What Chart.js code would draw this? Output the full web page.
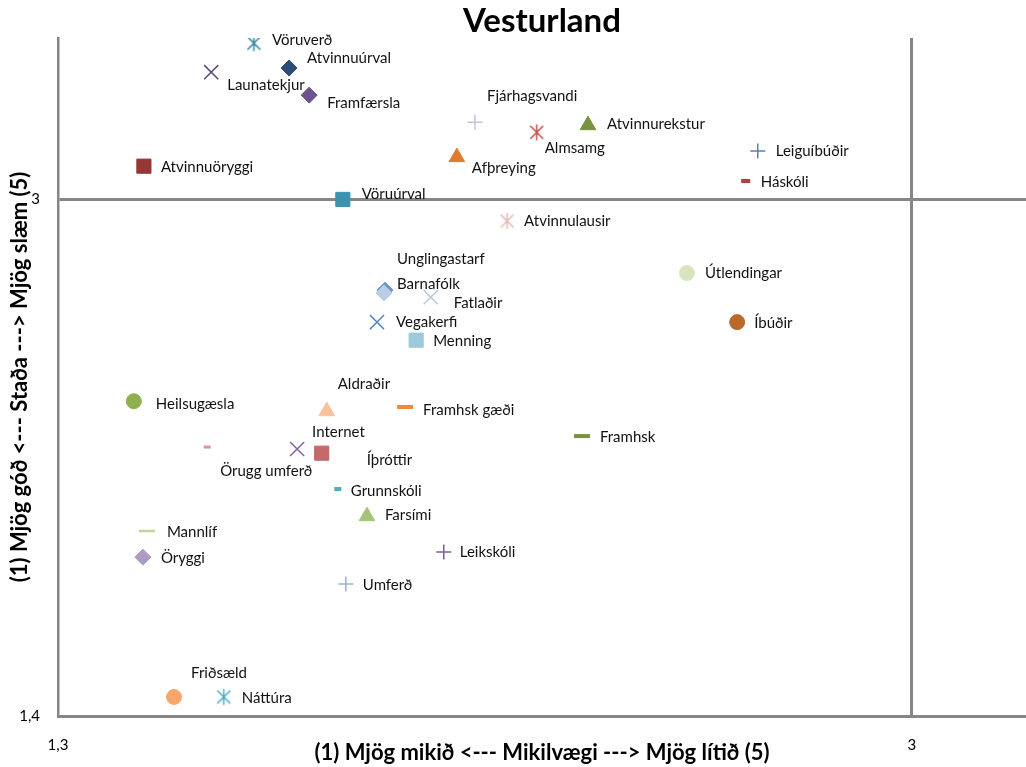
<!DOCTYPE html>
<html>
<head>
<meta charset="utf-8">
<script src="https://cdn.jsdelivr.net/npm/chart.js@4"></script>
<style>
  html, body { margin: 0; padding: 0; background: #fff; overflow: hidden; }
  #wrap { position: relative; width: 1026px; height: 767px; }
  #quadChart { display: block; }
</style>
</head>
<body>
<div id="wrap"><canvas id="quadChart"></canvas></div>
<script>
const categories = ["Vöruverð", "Atvinnuúrval", "Launatekjur", "Framfærsla", "Atvinnuöryggi", "Vöruúrval",
  "Fjárhagsvandi", "Almsamg", "Atvinnurekstur", "Afþreying", "Leiguíbúðir", "Háskóli", "Atvinnulausir",
  "Útlendingar", "Íbúðir", "Unglingastarf", "Barnafólk", "Fatlaðir", "Vegakerfi", "Menning", "Aldraðir",
  "Framhsk gæði", "Heilsugæsla", "Framhsk", "Internet", "Íþróttir", "Örugg umferð", "Grunnskóli",
  "Farsími", "Mannlíf", "Öryggi", "Leikskóli", "Umferð", "Friðsæld", "Náttúra"];

// Mikilvægi (x)
const importance = [1.690, 1.760, 1.605, 1.800, 1.471, 1.867,
  2.130, 2.253, 2.355, 2.094, 2.693, 2.669, 2.194,
  2.552, 2.652, 1.949, 1.951, 2.042, 1.935, 2.013, 1.835,
  1.991, 1.451, 2.343, 1.776, 1.825, 1.597, 1.857,
  1.915, 1.477, 1.469, 2.068, 1.873, 1.531, 1.630];

// Staða (y)
const status = [3.484, 3.407, 3.394, 3.323, 3.103, 3.000,
  3.239, 3.208, 3.230, 3.131, 3.150, 3.057, 2.933,
  2.772, 2.620, 2.710, 2.719, 2.697, 2.620, 2.564, 2.344,
  2.357, 2.375, 2.267, 2.227, 2.214, 2.233, 2.103,
  2.019, 1.973, 1.892, 1.908, 1.809, 1.459, 1.459];

const xTicks = [1.3, 3];
const yTicks = [1.4, 3];

// marker look per category: [style, colour, radius, line width]
const markers = [
  ["star", "#31859C", 9, 1.5], ["rectRot", "#2C4D75", 8, 1], ["crossRot", "#5F497A", 10, 1.5],
  ["rectRot", "#6C5490", 8, 1], ["rect", "#953735", 10, 1], ["rect", "#3C93AE", 10, 1],
  ["cross", "#CCC1DA", 7.5, 1.5], ["star", "#C0504D", 9, 1.5], ["triangle", "#77933C", 9, 1],
  ["triangle", "#E07B2E", 9, 1], ["cross", "#4F81BD", 7.5, 1.5], ["line", "#B3403D", 4.5, 4],
  ["star", "#E6B9B8", 9, 1.5], ["circle", "#D7E4BD", 7.5, 1], ["circle", "#B9692D", 7.5, 1],
  ["rectRot", "#B9CDE5", 8, 1], ["rectRot", "#6F93C7", 8, 1], ["crossRot", "#B9C7DD", 10, 1.5],
  ["crossRot", "#4F81BD", 10, 1.5], ["rect", "#9DCADB", 10, 1], ["triangle", "#FAC09C", 9, 1],
  ["line", "#F08A3A", 8, 4], ["circle", "#8EB04E", 7.5, 1], ["line", "#77933C", 8, 4],
  ["crossRot", "#8064A2", 10, 1.5], ["rect", "#C46A6A", 10, 1], ["line", "#D99694", 3.5, 3],
  ["line", "#4BACC6", 3.5, 4], ["triangle", "#A4C47A", 9, 1], ["line", "#C3D69B", 8, 2.5],
  ["rectRot", "#AC9BC4", 8, 1], ["cross", "#7B5C99", 7.5, 1.5], ["cross", "#95B3D7", 7.5, 1.5],
  ["circle", "#F9A66B", 7.5, 1], ["star", "#4BACC6", 9, 1.5]
];

// label offset from its marker, px
const labelShift = [
  [18, -3], [18, -10], [16, 13], [18, 8], [17, 1], [19, -5],
  [12, -26], [8, 16], [19, -1], [15, 11], [18, 0], [15, 1], [17, 0],
  [18, 0], [17, 1], [13, -34], [12, -6], [23, 6], [19, 0], [17, 1], [11, -27],
  [18, 3], [22, 3], [18, 1], [15, -17], [45, 7], [13, 24], [13, 2],
  [18, -1], [20, 1], [18, 1], [16, 0], [17, 1], [17, -24], [18, 1]
];

// Excel style star: X with a vertical bar
function starMarker(color, lw) {
  const c = document.createElement("canvas");
  c.width = 19; c.height = 19;
  const g = c.getContext("2d");
  g.strokeStyle = color;
  g.lineWidth = lw;
  g.beginPath();
  g.moveTo(3, 3); g.lineTo(16, 16);
  g.moveTo(16, 3); g.lineTo(3, 16);
  g.moveTo(9.5, 1.5); g.lineTo(9.5, 17.5);
  g.stroke();
  return c;
}

const datasets = categories.map((name, i) => {
  const [style, color, radius, lw] = markers[i];
  return {
    label: name,
    data: [{ x: importance[i], y: status[i] }],
    pointStyle: style === "star" ? starMarker(color, lw) : style,
    pointRadius: radius,
    backgroundColor: color,
    borderColor: color,
    borderWidth: lw
  };
});

const pointLabels = {
  id: "pointLabels",
  afterDatasetsDraw(chart) {
    const ctx = chart.ctx;
    ctx.save();
    ctx.font = "15px Lato";
    ctx.fillStyle = "#111";
    ctx.textAlign = "left";
    ctx.textBaseline = "middle";
    chart.data.datasets.forEach((ds, i) => {
      const pt = chart.getDatasetMeta(i).data[0];
      ctx.fillText(ds.label, pt.x + labelShift[i][0], pt.y + labelShift[i][1]);
    });
    ctx.restore();
  }
};

const axisGray = "#868686";
const crossAt3 = (c) => (c.tick && c.tick.value === 3 ? axisGray : "rgba(0,0,0,0)");
const comma = (v) => String(v).replace(".", ",");

new Chart(document.getElementById("quadChart"), {
  type: "scatter",
  data: { datasets: datasets },
  plugins: [pointLabels],
  options: {
    responsive: true,
    maintainAspectRatio: false,
    animation: false,
    layout: { padding: 0, autoPadding: false },
    plugins: {
      legend: { display: false },
      tooltip: { enabled: false },
      title: {
        display: true,
        fullSize: false,
        text: "Vesturland",
        color: "#000",
        font: { family: "Lato", size: 33, weight: "bold", lineHeight: 1.0 },
        padding: { top: 5, bottom: 0 }
      }
    },
    scales: {
      x: {
        type: "linear",
        min: 1.3,
        max: 3.227,
        afterBuildTicks: (s) => { s.ticks = xTicks.map((v) => ({ value: v })); },
        afterFit: (s) => { s.height = 51; s.paddingLeft = 0; s.paddingRight = 0; },
        grid: { color: crossAt3, lineWidth: 3, drawTicks: false },
        border: { color: axisGray, width: 3 },
        ticks: { padding: 20, color: "#000", font: { family: "Lato", size: 15 }, callback: comma, maxRotation: 0 },
        title: {
          display: true,
          text: "(1) Mjög mikið <--- Mikilvægi ---> Mjög lítið (5)",
          color: "#000",
          font: { family: "Lato", size: 22, weight: "bold" },
          padding: { top: 0, bottom: 1 }
        }
      },
      y: {
        type: "linear",
        min: 1.4,
        max: 3.5,
        afterBuildTicks: (s) => { s.ticks = yTicks.map((v) => ({ value: v })); },
        afterFit: (s) => { s.width = 58; s.paddingTop = 0; s.paddingBottom = 0; },
        grid: { color: crossAt3, lineWidth: 3, drawTicks: false },
        border: { color: axisGray, width: 2.5 },
        ticks: { padding: 18, color: "#000", font: { family: "Lato", size: 15 }, callback: comma },
        title: {
          display: true,
          text: "(1) Mjög góð <--- Staða ---> Mjög slæm (5)",
          color: "#000",
          font: { family: "Lato", size: 22, weight: "bold" },
          padding: { top: 7, bottom: 0 }
        }
      }
    }
  }
});
</script>
</body>
</html>
